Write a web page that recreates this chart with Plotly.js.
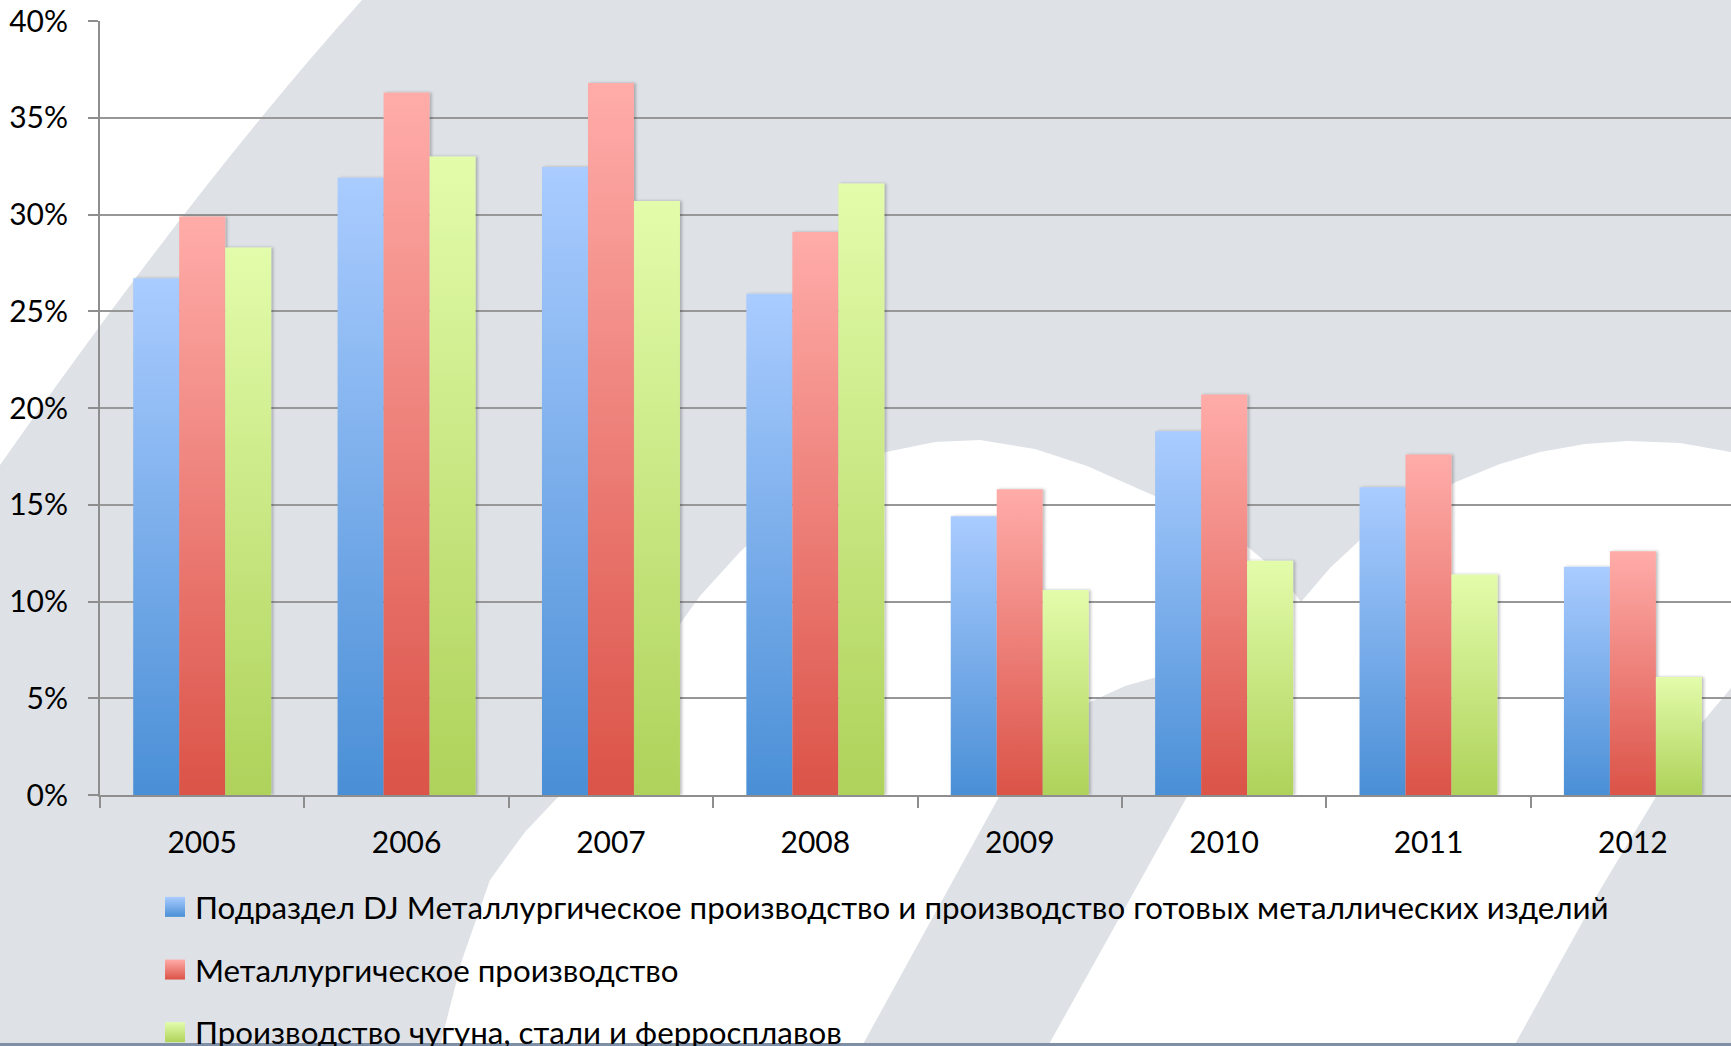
<!DOCTYPE html>
<html>
<head>
<meta charset="utf-8">
<script src="https://cdn.plot.ly/plotly-3.0.1.min.js"></script>
<style>
html,body{margin:0;padding:0;overflow:hidden;background:#DEE2E7;}
#chart{width:1731px;height:1046px;}
</style>
</head>
<body>
<div id="chart"></div>
<script>
// ---- data ----
const years = ['2005','2006','2007','2008','2009','2010','2011','2012'];
const seriesNames = [
  'Подраздел DJ Металлургическое производство и производство готовых металлических изделий',
  'Металлургическое производство',
  'Производство чугуна, стали и ферросплавов'
];
const djValues    = [26.7, 31.9, 32.45, 25.9, 14.4, 18.8, 15.9, 11.8];
const metalValues = [29.9, 36.3, 36.8, 29.1, 15.8, 20.7, 17.6, 12.6];
const ironValues  = [28.3, 33.0, 30.7, 31.6, 10.6, 12.1, 11.4, 6.1];
const yTickVals = [0,5,10,15,20,25,30,35,40];

// ---- styles ----
const baseColors = ['#7AAEEB','#EE7C74','#C9E487'];
const gradStops = [['#AACCFF','#4A8FD6'],['#FFACA9','#DB5348'],['#E3FCAB','#AED25A']];
const FONT = 'Lato, "Open Sans", sans-serif';

// plot-area geometry (pixels) used only to place the decorative background
const M = {l:100, r:0, t:21, b:251};
const W = 1731, H = 1046;
const pw = W - M.l - M.r, ph = H - M.t - M.b;
function pt(x,y){ return ((x - M.l)/pw).toFixed(5) + ',' + ((H - M.b - y)/ph).toFixed(5); }
function poly(pts){ return 'M' + pts.map(p=>pt(p[0],p[1])).join(' L') + ' Z'; }

const bgWhite = '#FFFFFF', bgGrey = '#DEE2E7';
const deco = (path, color) => ({type:'path', xref:'paper', yref:'paper', layer:'below', line:{width:0}, fillcolor:color, path:path});
const shapes = [
  deco('M'+pt(0,0)+' L'+pt(362,0)+' Q'+pt(200,180)+' '+pt(0,465)+' Z', bgWhite),
  deco(poly([[440,1046],[462,960],[490,880],[525,832],[560,795],[600,736],[640,680],[700,596],[740,552],[780,515],[830,478],[886,452],[935,442],[980,440],[1035,449],[1087,466],[1157,497],[1210,522],[1249,548],[1280,574],[1301,602],
             [1330,568],[1360,540],[1410,506],[1456,482],[1500,464],[1540,452],[1585,444],[1628,441],[1680,443],[1731,452],[1731,1046]]), bgWhite),
  deco(poly([[862,1046],[1000,795],[1050,735],[1090,702],[1125,686],[1157,677],[1190,670],[1218,668],[1240,674],[1242,692],[1225,725],[1188,795],[1048,1046]]), bgGrey),
  deco(poly([[1514,1046],[1600,890],[1660,790],[1700,725],[1731,688],[1731,1046]]), bgGrey),
  {type:'rect', xref:'paper', yref:'paper', layer:'above', line:{width:0}, fillcolor:'#7F8FA6',
   x0:(0-M.l)/pw, x1:(W-M.l)/pw, y0:(H-M.b-1046)/ph, y1:(H-M.b-1043)/ph}
];

const values = [djValues, metalValues, ironValues];
const traces = values.map((v,i)=>({
  type:'bar', x:years, y:v, name:seriesNames[i], legendgroup:'g'+i,
  marker:{color:baseColors[i], line:{width:0}},
  hoverinfo:'none'
}));

const axisGrey = '#8E8E8E';
const layout = {
  width:W, height:H,
  margin:{l:M.l, r:M.r, t:M.t, b:M.b, pad:0, autoexpand:false},
  paper_bgcolor:bgGrey, plot_bgcolor:'rgba(0,0,0,0)',
  barmode:'group', bargap:0.325, bargroupgap:0,
  font:{family:FONT, color:'#000', size:30},
  showlegend:true,
  legend:{
    xref:'container', yref:'container', x:155/W, y:1-880/H, xanchor:'left', yanchor:'top',
    orientation:'v', traceorder:'grouped', tracegroupgap:19,
    bgcolor:'rgba(0,0,0,0)', borderwidth:0,
    font:{family:FONT, size:31.3, color:'#000'}, itemwidth:30
  },
  xaxis:{
    type:'category', range:[-0.5, 7.48], fixedrange:true, automargin:false,
    showline:true, linecolor:axisGrey, linewidth:2,
    ticks:'outside', tickson:'boundaries', ticklen:11, tickwidth:2, tickcolor:axisGrey,
    showgrid:false, zeroline:false, tickangle:0,
    tickfont:{family:FONT, size:30, color:'#000'}, ticklabelstandoff:20
  },
  yaxis:{
    range:[0,40], tickvals:yTickVals, ticktext:yTickVals.map(v=>v+'%'), fixedrange:true, automargin:false,
    showline:true, linecolor:axisGrey, linewidth:2,
    ticks:'outside', ticklen:10, tickwidth:2, tickcolor:axisGrey,
    showgrid:true, gridcolor:'#979797', gridwidth:2, zeroline:false,
    tickfont:{family:FONT, size:30, color:'#000'}, ticklabelstandoff:14
  },
  shapes:shapes
};

const gd = document.getElementById('chart');
const NS = 'http://www.w3.org/2000/svg';
function applyGradients(){
  const svg = gd.querySelector('.main-svg');
  if(!svg) return;
  let defs = document.getElementById('custom-grads');
  if(!defs){
    defs = document.createElementNS(NS,'defs');
    defs.setAttribute('id','custom-grads');
    gradStops.forEach((s,i)=>{
      const lg = document.createElementNS(NS,'linearGradient');
      lg.setAttribute('id','bargrad'+i);
      lg.setAttribute('x1','0'); lg.setAttribute('y1','0');
      lg.setAttribute('x2','0'); lg.setAttribute('y2','1');
      [[0,s[0]],[1,s[1]]].forEach(([o,c])=>{
        const st = document.createElementNS(NS,'stop');
        st.setAttribute('offset', o);
        st.setAttribute('stop-color', c);
        lg.appendChild(st);
      });
      defs.appendChild(lg);
    });
    const f = document.createElementNS(NS,'filter');
    f.setAttribute('id','barshadow');
    f.setAttribute('x','-20%'); f.setAttribute('y','-5%');
    f.setAttribute('width','140%'); f.setAttribute('height','110%');
    const ds = document.createElementNS(NS,'feDropShadow');
    ds.setAttribute('dx','2'); ds.setAttribute('dy','0');
    ds.setAttribute('stdDeviation','1.5');
    ds.setAttribute('flood-color','#000'); ds.setAttribute('flood-opacity','0.25');
    f.appendChild(ds); defs.appendChild(f);
    svg.insertBefore(defs, svg.firstChild);
  }
  gd.querySelectorAll('.barlayer .trace.bars').forEach((tr,i)=>{
    tr.querySelectorAll('path').forEach(p=>{
      p.style.fill = 'url(#bargrad'+i+')';
      p.setAttribute('filter','url(#barshadow)');
    });
  });
  gd.querySelectorAll('.legend .traces').forEach((tr,i)=>{
    tr.querySelectorAll('.legendpoints path').forEach(p=>{
      p.setAttribute('d','M10,10H-10V-10H10Z');
      p.style.fill = 'url(#bargrad'+i+')';
    });
  });
}
Plotly.newPlot(gd, traces, layout, {staticPlot:true, displayModeBar:false}).then(()=>{
  applyGradients();
  gd.on('plotly_afterplot', applyGradients);
});
</script>
</body>
</html>
